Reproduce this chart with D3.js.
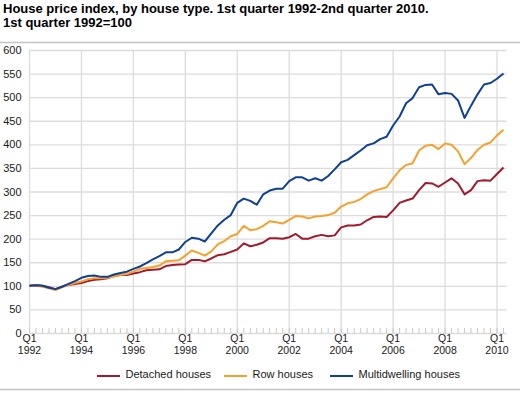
<!DOCTYPE html>
<html>
<head>
<meta charset="utf-8">
<script src="https://cdn.jsdelivr.net/npm/d3@7"></script>
<style>
  body { margin: 0; background: #fff; }
  svg { display: block; font-family: "Liberation Sans", Arial, sans-serif; }
</style>
</head>
<body>
<div id="chart"></div>
<script>
// quarters Q1 1992 .. Q2 2010
const startYear = 1992
const quarterCount = 74

const seriesNames = ["Detached houses", "Row houses", "Multidwelling houses"]
const seriesColors = ["#a3192d", "#f7a02c", "#0e4194"]

const detached = [100, 101, 100, 97, 93, 98, 102, 104, 106, 110, 113, 114, 116, 121, 123, 123,
  126, 129, 133, 134, 135, 142, 144, 145, 146, 155, 155, 152, 158, 165, 167, 172,
  177, 190, 184, 187, 192, 201, 201, 200, 203, 210, 200, 200, 205, 208, 205, 207,
  224, 228, 228, 230, 239, 246, 247, 246, 260, 276, 281, 285, 303, 318, 317, 310,
  319, 328, 317, 294, 303, 322, 324, 323, 337, 351]

const rowHouses = [100, 100, 98, 95, 91, 97, 102, 106, 109, 114, 116, 116, 117, 120, 123, 125,
  130, 136, 138, 140, 143, 152, 153, 154, 164, 175, 170, 164, 173, 188, 195, 205,
  210, 227, 218, 220, 227, 237, 235, 232, 240, 248, 247, 243, 247, 248, 250, 255,
  268, 275, 278, 284, 294, 301, 305, 309, 328, 345, 356, 360, 387, 397, 399, 390,
  402, 399, 385, 358, 371, 388, 399, 404, 419, 431]

const multidwelling = [100, 101, 100, 96, 93, 98, 104, 110, 117, 121, 122, 119, 119, 124, 127, 130,
  136, 141, 148, 156, 163, 171, 171, 177, 193, 202, 200, 194, 211, 228, 240, 250,
  276, 285, 280, 272, 294, 302, 306, 306, 322, 330, 330, 323, 328, 323, 333, 347,
  362, 367, 377, 387, 398, 402, 411, 416, 440, 459, 487, 498, 521, 526, 527, 506,
  509, 507, 493, 456, 482, 506, 527, 530, 539, 550]

const yTicks = [0, 50, 100, 150, 200, 250, 300, 350, 400, 450, 500, 550, 600]
const xLabelYears = [1992, 1994, 1996, 1998, 2000, 2002, 2004, 2006, 2008, 2010]

const W = 520, H = 393
const plot = { left: 29.5, right: 506.5, top: 50, bottom: 333 }

const svg = d3.select("#chart").append("svg")
    .attr("width", W)
    .attr("height", H)

// title
const title = svg.append("text")
    .attr("x", 3)
    .attr("font-size", "13px")
    .attr("font-weight", "bold")
    .attr("fill", "#000")
title.append("tspan").attr("x", 3).attr("y", 12.5)
    .text("House price index, by house type. 1st quarter 1992-2nd quarter 2010.")
title.append("tspan").attr("x", 3).attr("y", 26.5)
    .text("1st quarter 1992=100")

svg.append("line")
    .attr("x1", 0).attr("x2", W)
    .attr("y1", 42.5).attr("y2", 42.5)
    .attr("stroke", "#c4c4c4")
    .attr("stroke-width", 1.5)
svg.append("line")
    .attr("x1", 0).attr("x2", W)
    .attr("y1", 389.5).attr("y2", 389.5)
    .attr("stroke", "#c4c4c4")
    .attr("stroke-width", 1.5)

// scales
const x = d3.scaleLinear().domain([0, 72]).range([plot.left, 497])
const y = d3.scaleLinear().domain([0, 600]).range([plot.bottom, plot.top])

// horizontal grid + y labels
const yAxis = d3.axisLeft(y)
    .tickValues(yTicks)
    .tickSize(-(plot.right - plot.left))
    .tickPadding(8)

const gy = svg.append("g")
    .attr("transform", `translate(${plot.left},0)`)
    .call(yAxis)
gy.select(".domain").remove()
gy.selectAll(".tick line").attr("stroke", "#dcdcdc").attr("stroke-width", 1.3)
gy.selectAll(".tick text")
    .attr("font-size", "11px")
    .attr("fill", "#1a1a1a")
    .attr("font-family", "Liberation Sans, Arial, sans-serif")

// vertical grid at Q1 of labelled years
const labelIdx = xLabelYears.map(yr => (yr - startYear) * 4)
svg.append("g").selectAll("line")
    .data(labelIdx)
    .join("line")
    .attr("x1", d => x(d)).attr("x2", d => x(d))
    .attr("y1", plot.top).attr("y2", plot.bottom)
    .attr("stroke", "#dcdcdc")
    .attr("stroke-width", 1.3)

// minor quarter ticks
svg.append("g").selectAll("line")
    .data(d3.range(quarterCount))
    .join("line")
    .attr("x1", d => x(d)).attr("x2", d => x(d))
    .attr("y1", plot.bottom - 5).attr("y2", plot.bottom)
    .attr("stroke", "#c8c8c8")
    .attr("stroke-width", 1)

// x labels (two separate texts so they do not collide)
const xlabels = svg.append("g")
xlabels.selectAll("text.q")
    .data(xLabelYears)
    .join("text")
    .attr("class", "q")
    .attr("text-anchor", "middle")
    .attr("font-size", "10.5px")
    .attr("fill", "#1a1a1a")
    .attr("x", d => x((d - startYear) * 4))
    .attr("y", 341.5)
    .text("Q1")
xlabels.selectAll("text.yr")
    .data(xLabelYears)
    .join("text")
    .attr("class", "yr")
    .attr("text-anchor", "middle")
    .attr("font-size", "10.5px")
    .attr("fill", "#1a1a1a")
    .attr("x", d => x((d - startYear) * 4))
    .attr("y", 353.5)
    .text(d => d)

// lines
const allSeries = [detached, rowHouses, multidwelling]
const line = d3.line()
    .x((d, i) => x(i))
    .y(d => y(d))

svg.append("g").selectAll("path")
    .data(allSeries)
    .join("path")
    .attr("d", d => line(d))
    .attr("fill", "none")
    .attr("stroke", (d, i) => seriesColors[i])
    .attr("stroke-width", 2)
    .attr("stroke-linejoin", "round")

// legend
const legendX = [97, 224, 330]
const legend = svg.append("g").selectAll("g")
    .data(seriesNames)
    .join("g")
    .attr("transform", (d, i) => `translate(${legendX[i]},376)`)
legend.append("line")
    .attr("x1", 0).attr("x2", 23)
    .attr("stroke", (d, i) => seriesColors[i])
    .attr("stroke-width", 2)
legend.append("text")
    .attr("x", 28.5)
    .attr("y", 2)
    .attr("font-size", "11px")
    .attr("fill", "#1a1a1a")
    .text(d => d)
</script>
</body>
</html>
